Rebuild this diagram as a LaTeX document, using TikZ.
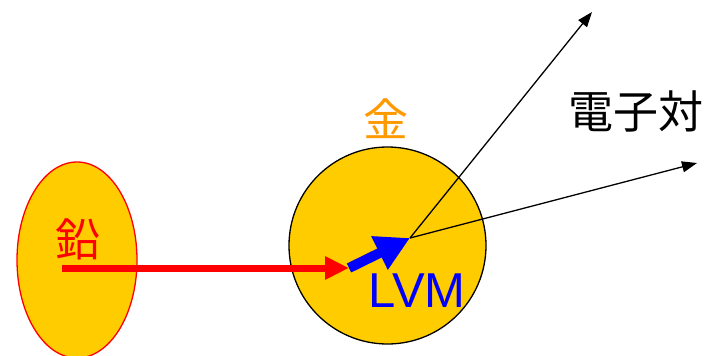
\documentclass[tikz,border=0pt]{standalone}
\usepackage{fontspec}
\setmainfont{Liberation Sans}
\newfontfamily\jp{Noto Sans CJK JP}
\usetikzlibrary{arrows.meta,shapes.geometric}
\definecolor{gold}{HTML}{FFCC00}
\definecolor{orng}{HTML}{FF9900}
\begin{document}
\begin{tikzpicture}[x=1pt,y=-1pt,
  big/.style={font=\jp\fontsize{45}{45}\selectfont, inner sep=0pt},
  thin/.style={-{Triangle[length=15pt,width=11pt]}, line width=1.3pt, black},
]
\useasboundingbox (0,0) rectangle (710,356);
\node[ellipse, draw=red, line width=1.3pt, fill=gold, minimum width=120pt, minimum height=196pt, inner sep=0pt] (pb) at (77,260) {};
\node[circle, draw=black, line width=1.3pt, fill=gold, minimum size=197pt, inner sep=0pt] (au) at (387.5,245.5) {};
\node[big, text=red] (pbt) at (78,239) {鉛};
\node[big, text=orng] (aut) at (386,119) {金};
\node[big, text=black] (ep) at (636,111) {電子対};
\node[font=\fontsize{49}{49}\selectfont, text=blue, inner sep=0pt] (lvm) at (417,291) {LVM};
\coordinate (r0) at (62,268);
\coordinate (r1) at (349,268);
\coordinate (b1) at (410,238);
\coordinate (e1) at (592,12);
\coordinate (e2) at (697,163);
\draw[-{Triangle[length=24pt,width=22pt]}, line width=7pt, red] (r0) -- (r1);
\draw[-{Triangle[length=34pt,width=35pt]}, line width=10pt, blue] (r1) -- (b1);
\draw[thin] (b1) -- (e1);
\draw[thin] (b1) -- (e2);
\end{tikzpicture}
\end{document}
